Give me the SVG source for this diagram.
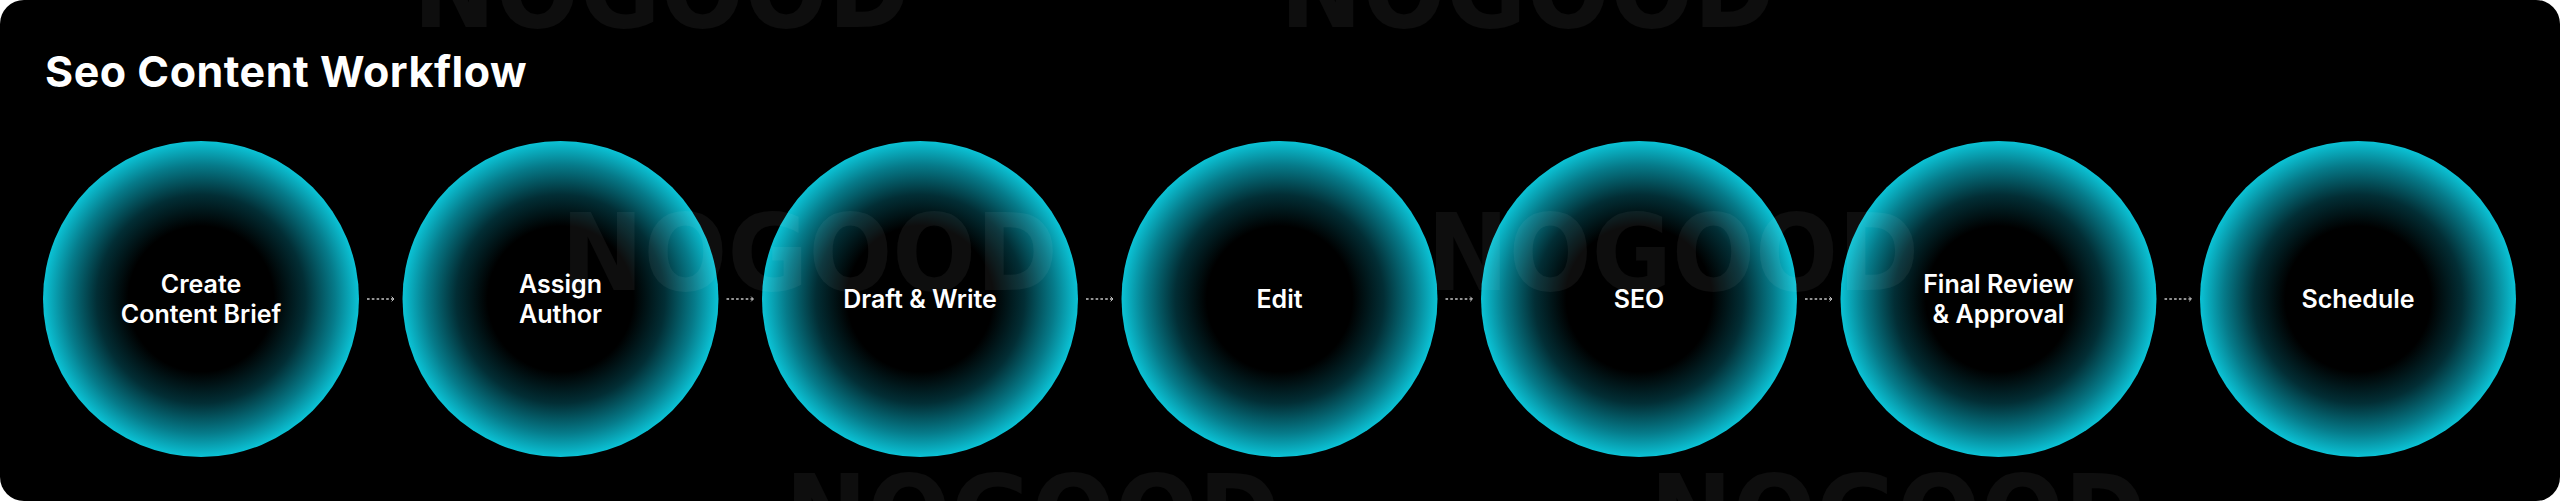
<svg xmlns="http://www.w3.org/2000/svg" width="2560" height="501" viewBox="0 0 2560 501">
  <defs>
    <radialGradient id="glow" cx="0.5" cy="0.5" r="0.5">
      <stop offset="0" stop-color="#000000"/>
      <stop offset="0.46" stop-color="#000000"/>
      <stop offset="0.66" stop-color="#022e35"/>
      <stop offset="0.85" stop-color="#067b8a"/>
      <stop offset="1" stop-color="#0bc3d6"/>
    </radialGradient>
    <marker id="chev" viewBox="0 0 6 10" refX="5" refY="5" markerWidth="4" markerHeight="6" markerUnits="userSpaceOnUse" orient="auto">
      <path d="M1 1 L5 5 L1 9" fill="none" stroke="#c4c4c4" stroke-width="1.6"/>
    </marker>
  </defs>
  <style>
    .node circle { fill: url(#glow); }
    .label { font-family: Inter, "Liberation Sans", sans-serif; font-size: 25px; font-weight: 600; fill: #ffffff; text-anchor: middle; }
    .title { font-family: Inter, "Liberation Sans", sans-serif; font-size: 43px; font-weight: 700; fill: #ffffff; letter-spacing: 0.5px; }
    .wm { font-family: "DejaVu Sans", "Liberation Sans", sans-serif; font-size: 107px; font-weight: 700; fill: #ffffff; fill-opacity: 0.055; }
    .conn line { stroke: #c4c4c4; stroke-width: 1.4; stroke-dasharray: 2.6 2.2; marker-end: url(#chev); }
  </style>
  <rect x="0" y="0" width="2560" height="501" fill="#ffffff"/>
  <rect x="0" y="0" width="2560" height="501" rx="24" ry="24" fill="#000000"/>

  <text class="title" x="45" y="87">Seo Content Workflow</text>

  <g id="node-create" class="node"><circle cx="201" cy="299" r="158"/></g>
  <g id="node-assign" class="node"><circle cx="560.5" cy="299" r="158"/></g>
  <g id="node-draft" class="node"><circle cx="920" cy="299" r="158"/></g>
  <g id="node-edit" class="node"><circle cx="1279.5" cy="299" r="158"/></g>
  <g id="node-seo" class="node"><circle cx="1639" cy="299" r="158"/></g>
  <g id="node-review" class="node"><circle cx="1998.5" cy="299" r="158"/></g>
  <g id="node-schedule" class="node"><circle cx="2358" cy="299" r="158"/></g>

  <g id="watermark">
    <text class="wm" x="413" y="27" textLength="497" lengthAdjust="spacingAndGlyphs">NOGOOD</text>
    <text class="wm" x="1280" y="27" textLength="495" lengthAdjust="spacingAndGlyphs">NOGOOD</text>
    <text class="wm" x="561" y="290" textLength="497" lengthAdjust="spacingAndGlyphs">NOGOOD</text>
    <text class="wm" x="1427" y="290" textLength="492" lengthAdjust="spacingAndGlyphs">NOGOOD</text>
    <text class="wm" x="785" y="551" textLength="495" lengthAdjust="spacingAndGlyphs">NOGOOD</text>
    <text class="wm" x="1650" y="551" textLength="496" lengthAdjust="spacingAndGlyphs">NOGOOD</text>
  </g>

  <g id="labels">
    <text class="label" x="201" y="293">Create</text>
    <text class="label" x="201" y="323">Content Brief</text>
    <text class="label" x="560.5" y="293">Assign</text>
    <text class="label" x="560.5" y="323">Author</text>
    <text class="label" x="920" y="308">Draft &amp; Write</text>
    <text class="label" x="1279.5" y="308">Edit</text>
    <text class="label" x="1639" y="308">SEO</text>
    <text class="label" x="1998.5" y="293">Final Review</text>
    <text class="label" x="1998.5" y="323">&amp; Approval</text>
    <text class="label" x="2358" y="308">Schedule</text>
  </g>

  <g id="connectors" class="conn">
    <line x1="367" y1="299" x2="394" y2="299"/>
    <line x1="726.5" y1="299" x2="753.5" y2="299"/>
    <line x1="1086" y1="299" x2="1113" y2="299"/>
    <line x1="1445.5" y1="299" x2="1472.5" y2="299"/>
    <line x1="1805" y1="299" x2="1832" y2="299"/>
    <line x1="2164.5" y1="299" x2="2191.5" y2="299"/>
  </g>
</svg>
